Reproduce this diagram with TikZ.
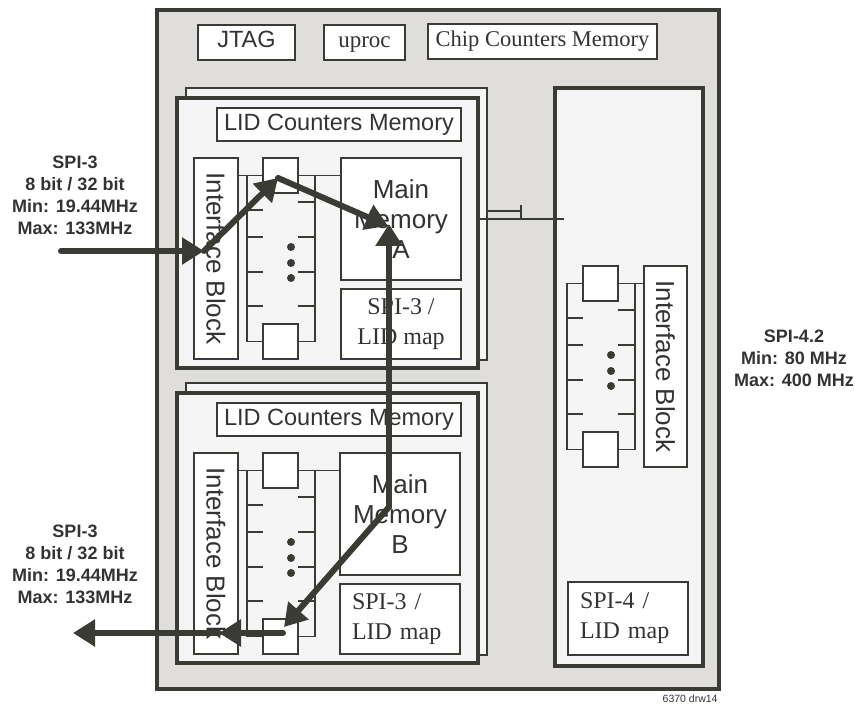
\documentclass[tikz,border=0pt]{standalone}
\usepackage{fontspec}
\setmainfont{Liberation Serif}
\setsansfont{Liberation Sans}
\usetikzlibrary{arrows.meta}
\definecolor{ink}{HTML}{3B3B36}
\definecolor{chipfill}{HTML}{DFDEDC}
\definecolor{blockfill}{HTML}{F4F5F4}
\definecolor{txt}{HTML}{333333}
\tikzset{
  thinl/.style={draw=ink, line width=0.75pt},
  box/.style={thinl, fill=white, inner sep=0pt, rectangle, text=txt},
  sbox/.style={box, font=\sffamily\fontsize{11.75}{15}\selectfont, align=center},
  bigsbox/.style={box, font=\sffamily\fontsize{13}{15}\selectfont, align=center},
  rbox/.style={box, font=\rmfamily\fontsize{12}{15}\selectfont},
  toprow/.style={text height=0.7em, text depth=0.2em, minimum height=17.5pt},
  chipframe/.style={draw=ink, line width=2pt, fill=chipfill, inner sep=0pt, rectangle},
  blockframe/.style={draw=ink, line width=2pt, fill=blockfill, inner sep=0pt, rectangle},
  shadowframe/.style={draw=ink, line width=0.75pt, fill=blockfill, inner sep=0pt, rectangle},
  qb/.style={box, minimum width=17.5pt, minimum height=17.5pt},
  flow/.style={draw=ink, line width=3pt, line cap=round, -{Triangle[length=11pt,width=13pt]}},
  lbl/.style={font=\sffamily\bfseries\fontsize{9}{11}\selectfont, text=txt, align=center, inner sep=0pt},
}
% queue: #1,#2 = top-left of top box (px), #3 = name prefix
\newcommand\fifoqueue[3]{%
  \begin{scope}[shift={(#1,#2)}]
    \draw[thinl] (0,17.5) -- (-16,17.5) -- (-16,183.5) -- (0,183.5);
    \draw[thinl] (35,17.5) -- (52,17.5) -- (52,183.5) -- (35,183.5);
    \foreach \yy in {52,79,114,148} \draw[thinl] (-16,\yy) -- (0,\yy);
    \foreach \yy in {44,79,114,148} \draw[thinl] (35,\yy) -- (52,\yy);
    \foreach \yy in {89,105,120} \fill[ink] (28,\yy) circle[radius=2pt];
    \node[qb] (#3t) at (17.5,17.5) {};
    \node[qb] (#3b) at (17.5,183.5) {};
  \end{scope}}
\begin{document}
\begin{tikzpicture}[x=0.5pt,y=-0.5pt]
\useasboundingbox (0,0) rectangle (859,706);

% chip
\node[chipframe, minimum width=281pt, minimum height=339.5pt] (chip) at (438,349.5) {};

% top row
\node[sbox, toprow, minimum width=48.5pt] (jtag) at (246.5,42.5) {JTAG};
\node[rbox, toprow, font=\rmfamily\fontsize{11.5}{14}\selectfont, minimum width=40.5pt] (uproc) at (364.5,42.5) {uproc};
\node[rbox, toprow, font=\rmfamily\fontsize{11.25}{14}\selectfont, minimum width=114.5pt] (ccm) at (542.5,41.5) {Chip Counters Memory};

% ---------- upper block A ----------
\node[shadowframe, minimum width=150.5pt, minimum height=136pt] (shA) at (336.5,224) {};
\node[blockframe, minimum width=150.5pt, minimum height=135pt] (blkA) at (327.5,233) {};
\node[sbox, minimum width=122pt, minimum height=16.5pt] (lidA) at (339,124.5) {LID Counters Memory};
\node[bigsbox, rotate=-90, minimum width=100.5pt, minimum height=22pt] (ifA) at (216,258.5) {Interface Block};
\node[bigsbox, minimum width=60pt, minimum height=61pt] (memA) at (401,219) {Main\\Memory\\A};
\node[rbox, align=center, minimum width=60pt, minimum height=35pt] (mapA) at (401,324) {SPI-3 /\\LID map};
\fifoqueue{263}{158}{qA}
\draw[thinl] (qAt.center -| ifA.north) -- (qAt.center -| 247,0);
\draw[thinl] (qAt.center -| 315,0) -- (qAt.center -| memA.west);

% ---------- lower block B ----------
\node[shadowframe, minimum width=150.5pt, minimum height=136pt] (shB) at (336.5,519) {};
\node[blockframe, minimum width=150.5pt, minimum height=135pt] (blkB) at (327.5,528) {};
\node[sbox, minimum width=122pt, minimum height=16.5pt] (lidB) at (339,419.5) {LID Counters Memory};
\node[bigsbox, rotate=-90, minimum width=100.5pt, minimum height=22pt] (ifB) at (216,553.5) {Interface Block};
\node[bigsbox, minimum width=60pt, minimum height=61pt] (memB) at (400,514) {Main\\Memory\\B};
\node[rbox, align=left, text width=48pt, minimum width=60pt, minimum height=35pt] (mapB) at (400,619) {SPI-3 /\\LID map};
\fifoqueue{263}{453}{qB}
\draw[thinl] (qBt.center -| ifB.north) -- (qBt.center -| 247,0);
\draw[thinl] (qBt.center -| 315,0) -- (qBt.center -| memB.west);

% ---------- right block (SPI-4) ----------
\node[blockframe, minimum width=74pt, minimum height=289pt] (blkR) at (629,377) {};
\node[bigsbox, rotate=-90, minimum width=100.5pt, minimum height=21.5pt] (ifR) at (665.5,366.5) {Interface Block};
\fifoqueue{583}{266}{qR}
\draw[thinl] (qRt.center -| 635,0) -- (qRt.center -| ifR.south);
\node[rbox, align=left, text width=48pt, minimum width=60pt, minimum height=36.5pt] (mapR) at (628,618.5) {SPI-4 /\\LID map};

% bus between blocks
\coordinate (busA) at (521,211);
\coordinate (busT) at (521,205);
\coordinate (busB) at (564,219);
\draw[thinl] (shA.east |- busA) -- (busA);
\draw[thinl] (busT) -- (busT |- busB);
\draw[draw=ink, line width=1pt] (blkA.east |- busB) -- (busB);

% data flow arrows
\coordinate (inA) at (61,251);
\coordinate (ifAin) at (204,251);
\coordinate (qAin) at (278,178);
\coordinate (mA) at (388,226);
\coordinate (mAv) at (389,224);
\coordinate (mB) at (389,507);
\coordinate (qBout) at (284,627);
\coordinate (qBb) at (283,633);
\coordinate (ifBout) at (219,633);
\coordinate (outB) at (73,633);
\draw[flow] (inA) -- (ifAin);
\draw[flow] (ifAin) -- (qAin);
\draw[flow] (qAin) -- (mA);
\draw[flow] (mB) -- (mAv);
\draw[flow] (mB) -- (qBout);
\draw[flow] (qBb) -- (ifBout);
\draw[flow] (ifBout) -- (outB);

% interface labels
\node[lbl] (spiA) at (75,195) {SPI-3\\8 bit / 32 bit\\Min: 19.44MHz\\Max: 133MHz};
\node[lbl] (spiB) at (75,564) {SPI-3\\8 bit / 32 bit\\Min: 19.44MHz\\Max: 133MHz};
\node[lbl] (spiR) at (794,358.5) {SPI-4.2\\Min: 80 MHz\\Max: 400 MHz};
\node[font=\sffamily\fontsize{5.25}{6}\selectfont, text=txt, anchor=east, inner sep=0pt] (drw) at (718,699) {6370 drw14};
\end{tikzpicture}
\end{document}
